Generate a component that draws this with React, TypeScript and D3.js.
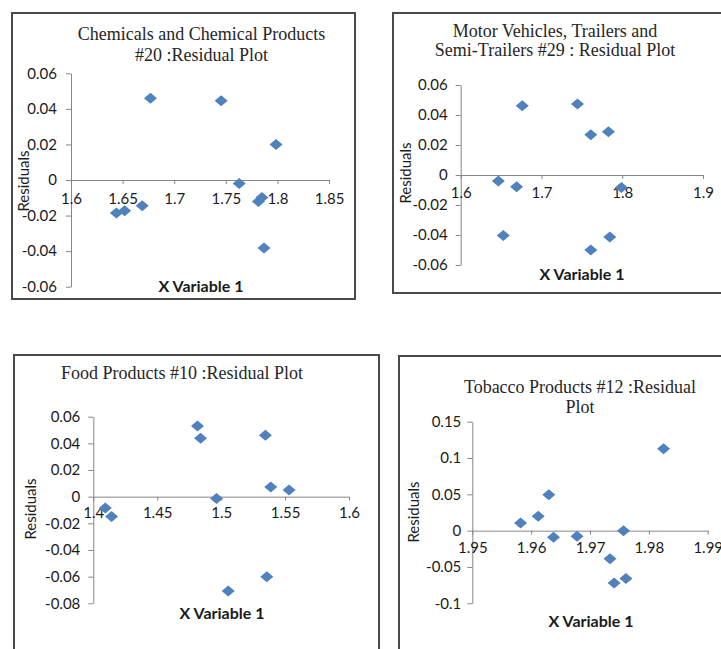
import * as d3 from 'd3';
import React, { useEffect, useRef } from 'react';

// residuals
const chemX = [1.644, 1.652, 1.669, 1.677, 1.7455, 1.763, 1.7816, 1.785, 1.787, 1.7987];
const chemY = [-0.0186, -0.0173, -0.0145, 0.046, 0.0445, -0.002, -0.0121, -0.0099, -0.0382, 0.0199];
const motorX = [1.6466, 1.6527, 1.6692, 1.6762, 1.7446, 1.7611, 1.7611, 1.7829, 1.7846, 1.799];
const motorY = [-0.004, -0.0404, -0.0078, 0.0462, 0.0473, 0.0269, -0.05, 0.0289, -0.0413, -0.0084];
const foodX = [1.4094, 1.4143, 1.4815, 1.4839, 1.4964, 1.5055, 1.5346, 1.5357, 1.5388, 1.5531];
const foodY = [-0.0085, -0.0148, 0.053, 0.0438, -0.0013, -0.0708, 0.046, -0.06, 0.0073, 0.005];
const tobaccoX = [1.9582, 1.9612, 1.963, 1.9638, 1.9678, 1.9734, 1.9741, 1.9757, 1.9761, 1.9825];
const tobaccoY = [0.0106, 0.0197, 0.0495, -0.0092, -0.0078, -0.0385, -0.072, 0, -0.066, 0.1128];

const chemXTicks = [1.6, 1.65, 1.7, 1.75, 1.8, 1.85];
const chemYTicks = [-0.06, -0.04, -0.02, 0, 0.02, 0.04, 0.06];
const motorXTicks = [1.6, 1.7, 1.8, 1.9];
const motorYTicks = [-0.06, -0.04, -0.02, 0, 0.02, 0.04, 0.06];
const foodXTicks = [1.4, 1.45, 1.5, 1.55, 1.6];
const foodYTicks = [-0.08, -0.06, -0.04, -0.02, 0, 0.02, 0.04, 0.06];
const tobaccoXTicks = [1.95, 1.96, 1.97, 1.98, 1.99];
const tobaccoYTicks = [-0.1, -0.05, 0, 0.05, 0.1, 0.15];

const chemTitle = ['Chemicals and Chemical Products', '#20 :Residual Plot'];
const motorTitle = ['Motor Vehicles, Trailers and', 'Semi-Trailers #29 : Residual Plot'];
const foodTitle = ['Food Products #10 :Residual Plot'];
const tobaccoTitle = ['Tobacco Products #12 :Residual', 'Plot'];

const xTitle = 'X Variable 1';
const yTitle = 'Residuals';

const width = 721;
const height = 649;
const markerColor = '#4F81BD';
const axisColor = '#868686';

interface Panel {
  xs: number[];
  ys: number[];
  xTicks: number[];
  yTicks: number[];
  title: string[];
  box: [number, number, number, number];
  xRange: [number, number];
  yRange: [number, number];
  titleX: number;
  titleY: number[];
  xTitleX: number;
  xTitleY: number;
  yTitleX: number;
  yTitleY: number;
  yPad: number;
  xLabelY: number;
}

const panels: Panel[] = [
  {
    xs: chemX, ys: chemY, xTicks: chemXTicks, yTicks: chemYTicks, title: chemTitle,
    box: [12, 13, 355, 299], xRange: [71, 329], yRange: [286.7, 73.3],
    titleX: 201.5, titleY: [40, 61], xTitleX: 201, xTitleY: 292, yTitleX: 23, yTitleY: 181,
    yPad: 9, xLabelY: 24,
  },
  {
    xs: motorX, ys: motorY, xTicks: motorXTicks, yTicks: motorYTicks, title: motorTitle,
    box: [393, 13, 724, 293], xRange: [460.7, 703], yRange: [265, 85],
    titleX: 555, titleY: [37, 55.5], xTitleX: 582, xTitleY: 280, yTitleX: 405, yTitleY: 173,
    yPad: 8, xLabelY: 23,
  },
  {
    xs: foodX, ys: foodY, xTicks: foodXTicks, yTicks: foodYTicks, title: foodTitle,
    box: [14, 355, 379, 652], xRange: [93.3, 349], yRange: [603.3, 416.7],
    titleX: 182, titleY: [378.5], xTitleX: 222, xTitleY: 618.5, yTitleX: 30, yTitleY: 509,
    yPad: 8, xLabelY: 21.5,
  },
  {
    xs: tobaccoX, ys: tobaccoY, xTicks: tobaccoXTicks, yTicks: tobaccoYTicks, title: tobaccoTitle,
    box: [399, 356, 724, 652], xRange: [472.3, 707.7], yRange: [603.3, 421.7],
    titleX: 580, titleY: [392.5, 413], xTitleX: 591, xTitleY: 627, yTitleX: 413, yTitleY: 512,
    yPad: 6, xLabelY: 22,
  },
];

const fmt = (v: number) => String(parseFloat(v.toFixed(4)));

// excel style diamond, a bit wider than tall
const diamond = 'M0,-5.5L6.5,0L0,5.5L-6.5,0Z';

const App: React.FC = () => {
  const ref = useRef<SVGSVGElement>(null);

  useEffect(() => {
    const svg = d3.select(ref.current);
    svg.selectAll('*').remove();

    panels.forEach((p) => {
      const g = svg.append('g');
      const [bx0, by0, bx1, by1] = p.box;

      g.append('rect')
        .attr('x', bx0)
        .attr('y', by0)
        .attr('width', bx1 - bx0)
        .attr('height', by1 - by0)
        .attr('fill', '#fff')
        .attr('stroke', '#4a4a4a')
        .attr('stroke-width', 2);

      const x = d3.scaleLinear().domain(d3.extent(p.xTicks) as [number, number]).range(p.xRange);
      const y = d3.scaleLinear().domain(d3.extent(p.yTicks) as [number, number]).range(p.yRange);

      const yAxis = g
        .append('g')
        .attr('transform', `translate(${p.xRange[0]},0)`)
        .call(d3.axisLeft(y).tickValues(p.yTicks).tickSize(5).tickSizeOuter(0).tickPadding(p.yPad).tickFormat((d: any) => fmt(d)));

      const xAxis = g
        .append('g')
        .attr('transform', `translate(0,${y(0)})`)
        .call(d3.axisBottom(x).tickValues(p.xTicks).tickSize(4).tickSizeOuter(0).tickFormat((d: any) => fmt(d)));

      [yAxis, xAxis].forEach((a) => {
        a.attr('font-family', 'Lato, sans-serif').attr('font-size', 15);
        a.select('.domain').attr('stroke', axisColor);
        a.selectAll('.tick line').attr('stroke', axisColor);
        a.selectAll('.tick text').attr('fill', '#1a1a1a');
      });
      xAxis.selectAll('.tick text').attr('dy', null).attr('y', p.xLabelY);

      g.selectAll('text.title')
        .data(p.title)
        .enter()
        .append('text')
        .attr('class', 'title')
        .attr('x', p.titleX)
        .attr('y', (d, i) => p.titleY[i])
        .attr('text-anchor', 'middle')
        .attr('font-family', '"Liberation Serif", "Times New Roman", serif')
        .attr('font-size', 18)
        .attr('fill', '#262626')
        .text((d) => d);

      g.append('text')
        .attr('x', p.xTitleX)
        .attr('y', p.xTitleY)
        .attr('text-anchor', 'middle')
        .attr('font-family', 'Lato, sans-serif')
        .attr('font-weight', 'bold')
        .attr('font-size', 16)
        .attr('fill', '#1a1a1a')
        .text(xTitle);

      g.append('text')
        .attr('transform', `translate(${p.yTitleX},${p.yTitleY}) rotate(-90)`)
        .attr('text-anchor', 'middle')
        .attr('dominant-baseline', 'central')
        .attr('font-family', 'Lato, sans-serif')
        .attr('font-size', 15)
        .attr('fill', '#1a1a1a')
        .text(yTitle);

      g.selectAll('path.pt')
        .data(p.xs.map((v, i) => [v, p.ys[i]]))
        .enter()
        .append('path')
        .attr('class', 'pt')
        .attr('d', diamond)
        .attr('fill', markerColor)
        .attr('transform', (d) => `translate(${x(d[0])},${y(d[1])})`);
    });
  }, []);

  return (
    <svg
      ref={ref}
      width={width}
      height={height}
      viewBox={`0 0 ${width} ${height}`}
      style={{ position: 'absolute', left: 0, top: 0, background: '#fff' }}
    ></svg>
  );
};

export default App;
